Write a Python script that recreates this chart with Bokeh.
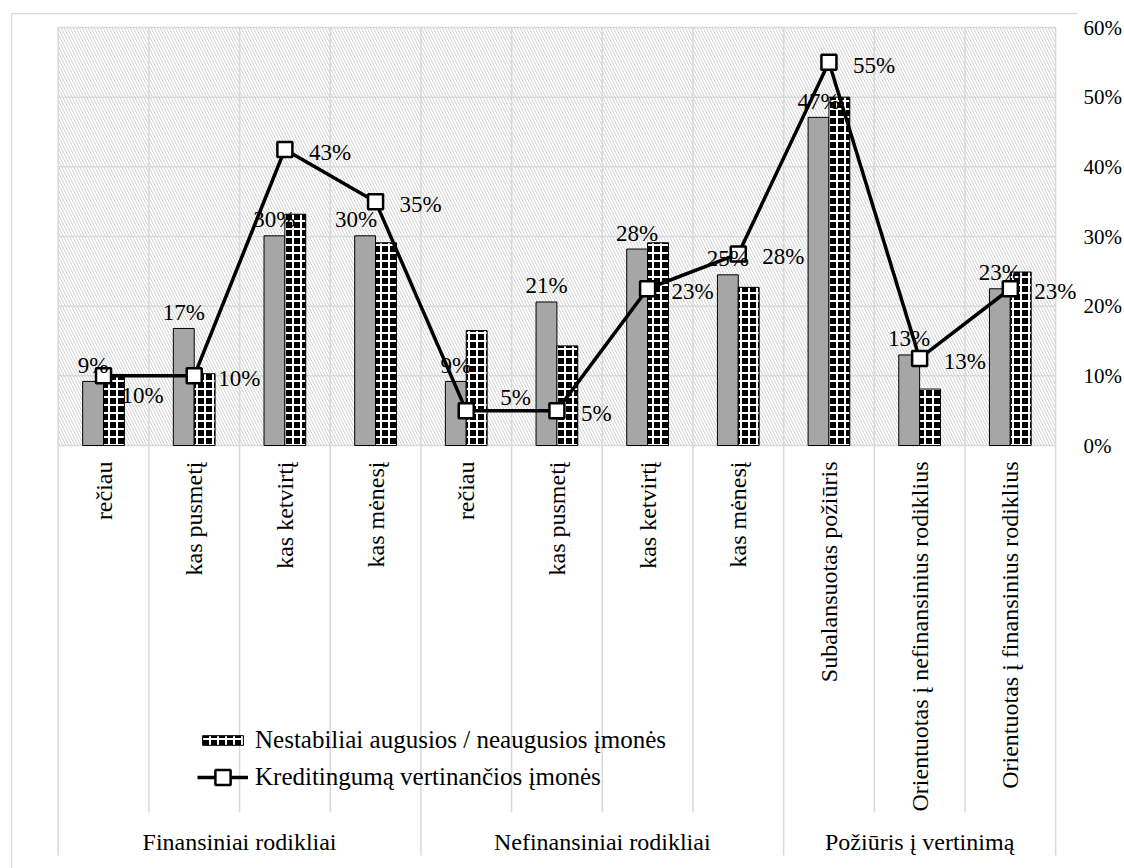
import math
from bokeh.plotting import figure
from bokeh.models import (Range1d, LinearAxis, FixedTicker, PrintfTickFormatter,
                          ColumnDataSource, Legend, LegendItem)
from bokeh.core.properties import value
from bokeh.embed import file_html
from bokeh.resources import INLINE

# ---------------- data ----------------
groups = ["Finansiniai rodikliai", "Nefinansiniai rodikliai", "Požiūris į vertinimą"]
group_sizes = [4, 4, 3]
categories = ["rečiau", "kas pusmetį", "kas ketvirtį", "kas mėnesį",
              "rečiau", "kas pusmetį", "kas ketvirtį", "kas mėnesį",
              "Subalansuotas požiūris",
              "Orientuotas į nefinansinius rodiklius",
              "Orientuotas į finansinius rodiklius"]
gray_values = [9.2, 16.8, 30.1, 30.1, 9.2, 20.6, 28.2, 24.5, 47.1, 13.0, 22.5]
hatched_values = [10.2, 10.3, 33.2, 29.1, 16.5, 14.3, 29.1, 22.7, 50.0, 8.1, 24.9]
line_values = [10.0, 10.0, 42.5, 35.0, 5.0, 5.0, 22.5, 27.5, 55.0, 12.5, 22.5]
hatched_name = "Nestabiliai augusios / neaugusios įmonės"
line_name = "Kreditingumą vertinančios įmonės"
y_ticks = [0, 10, 20, 30, 40, 50, 60]

# ---------------- layout constants (pixels) ----------------
W, H = 1124, 868
FRAME_L, FRAME_T, FRAME_R = 10, 12, 1084
BORDER_X, BORDER_Y = 11, 13
PLOT_L, PLOT_T, PLOT_R, ZERO_Y = 58, 27, 1062, 445
PX = (ZERO_Y - PLOT_T) / 60.0          # px per percent
CAT_W = (PLOT_R - PLOT_L) / len(categories)
n = len(categories)
x_lo = -0.5
x_hi = n - 0.5
x_start = x_lo - (PLOT_L - FRAME_L) / CAT_W
x_end = x_hi + (FRAME_R - PLOT_R) / CAT_W
y_end = 60 + (PLOT_T - FRAME_T) / PX
y_start = -(H - ZERO_Y) / PX
inner_bottom = -(812 - ZERO_Y) / PX
group_bottom = -(855 - ZERO_Y) / PX
border_x = x_lo - (PLOT_L - BORDER_X) / CAT_W
border_y = 60 + (PLOT_T - BORDER_Y) / PX
bw = 21 / CAT_W

FAMILY = "Liberation Serif"
FONT = value(FAMILY)

def pct(v):
    return f"{int(v + 0.5)}%"

centers = list(range(n))

p = figure(width=W, height=H, x_range=Range1d(x_start, x_end),
           y_range=Range1d(y_start, y_end),
           x_axis_location=None, y_axis_location=None,
           toolbar_location=None, output_backend="svg",
           min_border_left=FRAME_L, min_border_top=FRAME_T,
           min_border_bottom=0, min_border_right=W - FRAME_R,
           outline_line_color=None, background_fill_color="white",
           border_fill_color="white")
p.xgrid.visible = False
p.ygrid.visible = False

# outer chart border (left and top)
p.segment(x0=[border_x, border_x], x1=[border_x, x_end + 1],
          y0=[y_start - 1, border_y], y1=[border_y, border_y],
          line_color="#d9d9d9", line_width=1.5)

# plot area patterned background
p.quad(left=[x_lo], right=[x_hi], bottom=[0], top=[60],
       fill_color="white", line_color=None,
       hatch_pattern="\\", hatch_color="#d2d2d2", hatch_weight=1, hatch_scale=6)

# horizontal gridlines
p.segment(x0=[x_lo] * len(y_ticks), x1=[x_hi] * len(y_ticks), y0=y_ticks, y1=y_ticks,
          line_color="#d9d9d9", line_width=1.5)

# vertical gridlines (category boundaries, group boundaries longer)
group_bounds = [x_lo]
acc = x_lo
for g in group_sizes:
    acc += g
    group_bounds.append(acc)
bounds = [i - 0.5 for i in range(n + 1)]
vb = [b for b in bounds if b not in group_bounds]
p.segment(x0=vb, x1=vb, y0=[60] * len(vb), y1=[inner_bottom] * len(vb),
          line_color="#d9d9d9", line_width=1.5)
p.segment(x0=group_bounds, x1=group_bounds, y0=[60] * len(group_bounds),
          y1=[group_bottom] * len(group_bounds), line_color="#d9d9d9", line_width=1.5)

# bars
gray_dx = [0, 0, 0, -9, 0, 0, 0, 0, 0, 0, 0]
line_dx = [18, 24, 24, 24, 34, 24, 24, 24, 24, 24, 24]
line_dy = [20, 3, 3, 3, -13, 3, 3, 3, 3, 3, 3]
src = ColumnDataSource(dict(
    xg=[c - bw / 2 for c in centers], xh=[c + bw / 2 for c in centers],
    gray=gray_values, hat=hatched_values, line=line_values, x=centers,
    gray_lbl=[pct(v) for v in gray_values], line_lbl=[pct(v) for v in line_values],
    gdx=gray_dx, ldx=line_dx, ldy=line_dy))

p.vbar(x="xg", top="gray", width=bw, bottom=0, source=src,
       fill_color="#a6a6a6", line_color="black", line_width=1)
r_hat = p.vbar(x="xh", top="hat", width=bw, bottom=0, source=src,
               fill_color="black", line_color="black", line_width=1,
               hatch_pattern="+", hatch_color="white", hatch_weight=2, hatch_scale=8)

# line series
r_line = p.line(x="x", y="line", source=src, line_color="black", line_width=3.5)
r_sc = p.scatter(x="x", y="line", source=src, marker="square", size=15,
                 fill_color="white", line_color="black", line_width=2.5)

# data labels
p.text(x="xg", y="gray", text="gray_lbl", source=src, x_offset="gdx", y_offset=-16,
       text_align="center", text_baseline="alphabetic",
       text_font=FONT, text_font_size="23px", text_color="black")
p.text(x="x", y="line", text="line_lbl", source=src, x_offset="ldx", y_offset="ldy",
       text_align="left", text_baseline="middle",
       text_font=FONT, text_font_size="23px", text_color="black")

# category labels (vertical)
p.text(x=centers, y=[0] * n, text=categories, angle=math.pi / 2, y_offset=16,
       text_align="right", text_baseline="middle",
       text_font=FONT, text_font_size="24px", text_color="black")

# group labels
gcenters = [(group_bounds[i] + group_bounds[i + 1]) / 2 for i in range(len(groups))]
p.text(x=gcenters, y=[0] * len(groups), text=groups, y_offset=396,
       text_align="center", text_baseline="middle",
       text_font=FONT, text_font_size="24px", text_color="black")

# right y axis
yax = LinearAxis(ticker=FixedTicker(ticks=y_ticks),
                 formatter=PrintfTickFormatter(format="%d%%"),
                 axis_line_color=None, major_tick_line_color=None,
                 minor_tick_line_color=None, major_label_standoff=0,
                 major_label_text_font=FAMILY,
                 major_label_text_font_size="21px", major_label_text_color="black")
p.add_layout(yax, "right")

# legends
leg_common = dict(glyph_width=51, label_standoff=7, padding=0, margin=0, spacing=0,
                  label_text_font=FAMILY, label_text_font_size="25px",
                  label_text_color="black",
                  background_fill_alpha=0, border_line_alpha=0)
leg1 = Legend(items=[LegendItem(label=hatched_name, renderers=[r_hat])],
              location=(197 - FRAME_L, H - 754), glyph_height=12, **leg_common)
leg2 = Legend(items=[LegendItem(label=line_name, renderers=[r_line, r_sc])],
              location=(197 - FRAME_L, H - 796), glyph_height=38, **leg_common)
p.add_layout(leg1)
p.add_layout(leg2)

open("out.html", "w").write(file_html(p, INLINE))
